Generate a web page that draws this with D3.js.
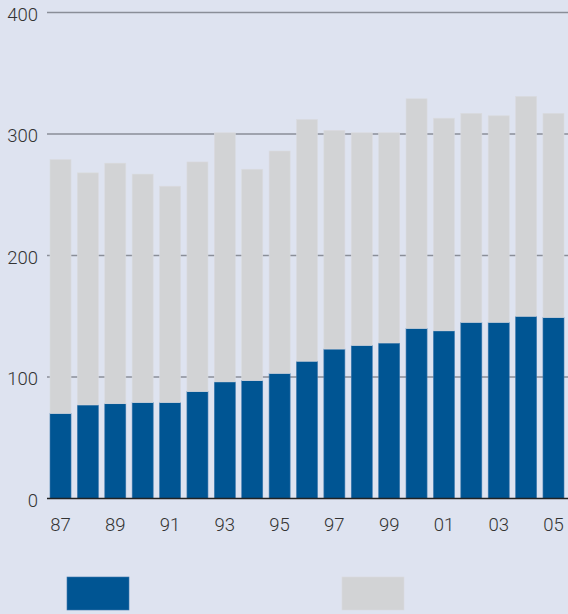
<!DOCTYPE html>
<html>
<head>
<meta charset="utf-8">
<script src="https://cdn.jsdelivr.net/npm/d3@7"></script>
<style>
  html, body { margin: 0; padding: 0; background: #dee3f0; }
  svg { display: block; }
  text { font-family: Roboto, "Liberation Sans", Arial, sans-serif; font-weight: 300; fill: #333; }
</style>
</head>
<body>
<svg id="chart" width="568" height="614"></svg>
<script>
const years = ["87","88","89","90","91","92","93","94","95","96","97","98","99","00","01","02","03","04","05"];
const blueValues = [70, 77, 78, 79, 79, 88, 96, 97, 103, 113, 123, 126, 128, 140, 138, 145, 145, 150, 149];
const totalValues = [279, 268, 276, 267, 257, 277, 301, 271, 286, 312, 303, 301, 301, 329, 313, 317, 315, 331, 317];
const grayValues = totalValues.map((t, i) => t - blueValues[i]);
const yTicks = [0, 100, 200, 300, 400];
const xTickLabels = ["87","89","91","93","95","97","99","01","03","05"];

const svg = d3.select("#chart");
const plotLeft = 47, plotRight = 567, plotTop = 12.5, plotBottom = 498.5;

const x = d3.scaleBand().domain(years).range([plotLeft, plotRight]).paddingInner(0.233).paddingOuter(0.11);
const y = d3.scaleLinear().domain([0, 400]).range([plotBottom, plotTop]);

// gridlines
svg.append("g").selectAll("line").data(yTicks.filter(d => d > 0)).join("line")
  .attr("x1", plotLeft).attr("x2", 568)
  .attr("y1", d => y(d)).attr("y2", d => y(d))
  .attr("stroke", "#8a8e98").attr("stroke-width", 1.5);

// stacked data
const data = years.map((yr, i) => ({ year: yr, blue: blueValues[i], gray: grayValues[i] }));
const stack = d3.stack().keys(["blue", "gray"])(data);
const colors = { blue: "#005593", gray: "#d2d3d5" };
const strokes = { blue: "#3d78ad", gray: "#dadbdf" };

svg.append("g").selectAll("g").data(stack).join("g")
  .attr("fill", d => colors[d.key])
  .attr("stroke", d => strokes[d.key])
  .attr("stroke-width", 0.6)
  .selectAll("rect").data(d => d).join("rect")
  .attr("x", d => x(d.data.year))
  .attr("width", x.bandwidth())
  .attr("y", d => y(d[1]))
  .attr("height", d => y(d[0]) - y(d[1]));

// baseline
svg.append("line").attr("x1", plotLeft).attr("x2", 568)
  .attr("y1", y(0)).attr("y2", y(0))
  .attr("stroke", "#222").attr("stroke-width", 1.5);

// y labels
svg.append("g").selectAll("text").data(yTicks).join("text")
  .attr("x", 38).attr("y", d => y(d) + 8)
  .attr("text-anchor", "end")
  .attr("font-size", 18.5)
  .text(d => d);

// x labels
svg.append("g").selectAll("text").data(xTickLabels).join("text")
  .attr("x", d => x(d) + x.bandwidth() / 2)
  .attr("y", 531)
  .attr("text-anchor", "middle")
  .attr("font-size", 18.5)
  .text(d => d);

// legend swatches
const legend = [{ key: "blue", x: 67 }, { key: "gray", x: 342 }];
svg.append("g").selectAll("rect").data(legend).join("rect")
  .attr("x", d => d.x).attr("y", 577)
  .attr("width", 62).attr("height", 33)
  .attr("fill", d => colors[d.key])
  .attr("stroke", d => strokes[d.key])
  .attr("stroke-width", 0.6);
</script>
</body>
</html>
